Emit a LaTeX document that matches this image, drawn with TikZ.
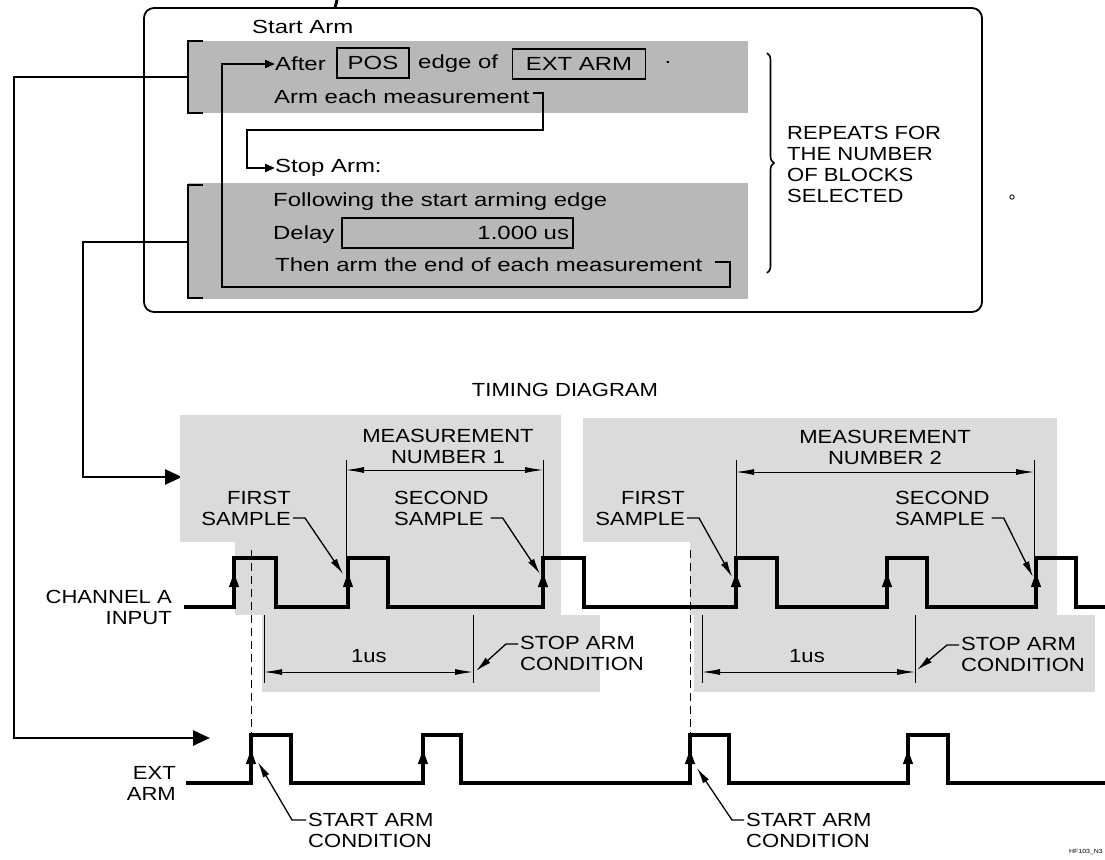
\documentclass[tikz,border=0pt]{standalone}
\usepackage{fontspec}
\setmainfont{Liberation Sans}[FakeStretch=1.16]
\newfontfamily\menufont{Liberation Sans}[FakeStretch=1.26]
\usetikzlibrary{arrows.meta,positioning,decorations.pathreplacing}
\definecolor{panel}{gray}{0.72}
\definecolor{halftone}{gray}{0.86}
\newcommand\diafont{\fontsize{19}{21}\selectfont}

\begin{document}
\begin{tikzpicture}[
        x=1pt, y=-1pt,
        txt/.style={font=\diafont, inner sep=0pt},
        mtxt/.style={font={\menufont\diafont}, inner sep=0pt},
        field/.style={draw, line width=1.3pt, fill=panel, font={\menufont\diafont}, minimum height=30pt, inner sep=0pt},
        wave/.style={line width=3.2pt, line join=miter},
        feed/.style={line width=2.8pt, -{Triangle[length=17pt,width=15pt]}},
        loopline/.style={line width=2.2pt, -{Triangle[length=10pt,width=8pt]}},
        bracket/.style={line width=2.8pt},
        extline/.style={line width=0.9pt},
        dimline/.style={line width=0.9pt, {Latex[length=18pt,width=6pt]}-{Latex[length=18pt,width=6pt]}},
        leader/.style={line width=1.3pt, -{Latex[length=16pt,width=7pt]}},
        edgearrow/.style={line width=1pt, -{Triangle[length=14pt,width=10pt]}}
    ]
    \useasboundingbox (0,0) rectangle (1105,859);

    % Menu
    \node[draw, line width=1.8pt, rounded corners=10pt, minimum width=838pt, minimum height=304pt] (menu) at (563,160) {};
    \coordinate (tick) at (335,8);
    \draw[line width=3pt] (tick) -- (337,0);
    \node[mtxt, anchor=west] (startarm) at (252,27) {Start Arm};
    \fill[panel] (188,41) rectangle (748,113);
    \fill[panel] (188,183) rectangle (748,299);
    \draw[bracket] (203,41) -| (188,113) -- (203,113);
    \draw[bracket] (203,185) -| (188,298) -- (203,298);

    \node[mtxt, anchor=west] (after) at (275,64) {After};
    \node[field, minimum width=72pt] (pos) at (373,63) {POS};
    \node[mtxt, anchor=west] (edgeof) at (418,64) {edge of};
    \node[field, minimum width=133pt] (extarm) at (579,64) {EXT ARM};
    \node[mtxt] (dot) at (668,62) {.};
    \node[mtxt, anchor=west] (armeach) at (274,97) {Arm each measurement};
    \node[mtxt, anchor=west] (stoparm) at (275,168) {Stop Arm:};
    \node[mtxt, anchor=west] (following) at (273,202) {Following the start arming edge};
    \node[mtxt, anchor=west] (delay) at (273,235) {Delay};
    \node[field, minimum width=231pt, text width=223pt, align=right] (delayval) at (457.5,233) {1.000 us};
    \node[mtxt, anchor=west] (thenarm) at (275,265) {Then arm the end of each measurement};

    \coordinate (armhook) at (533,93);
    \coordinate (thenhook) at (715,262);
    \draw[loopline] (armhook) -| (543,130) -| (247,168) -- (stoparm.west);
    \draw[loopline] (thenhook) -| (730,287) -| (222,64) -- (after.west);

    \draw[decorate, decoration={brace, amplitude=7pt}, line width=1.6pt] (767,53) -- (767,273);
    \node[txt, anchor=west, align=left] (repeats) at (787,164) {REPEATS FOR\\THE NUMBER\\OF BLOCKS\\SELECTED};
    \draw[line width=0.8pt] (1012,197) circle (2.2pt);

    % Arming lines
    \coordinate (brA) at (188,77);
    \coordinate (brB) at (188,242);
    \coordinate (armin) at (210,738);
    \coordinate (chin) at (182,477);
    \draw[feed] (brA) -| (14,738) -- (armin);
    \draw[feed] (brB) -| (83,477) -- (chin);

    % Timing diagram
    \node[txt] (timing) at (565,390) {TIMING DIAGRAM};
    \fill[halftone] (180,415) rectangle (561,542);
    \fill[halftone] (235,542) rectangle (561,615);
    \fill[halftone] (262,615) rectangle (600,692);
    \fill[halftone] (583,418) rectangle (1057,542);
    \fill[halftone] (690,542) rectangle (1057,615);
    \fill[halftone] (694,615) rectangle (1095,692);

    \node[txt, anchor=east, align=right] (chA) at (172,607) {CHANNEL A\\INPUT};
    \node[txt, anchor=east, align=right] (extlbl) at (176,783) {EXT\\ARM};

    \draw[wave] (184,607) -- (234,607) -- (234,558) -- (276,558) -- (276,607) -- (348,607) -- (348,558)
        -- (388,558) -- (388,607) -- (543,607) -- (543,558) -- (584,558) -- (584,607) -- (736,607)
        -- (736,558) -- (777,558) -- (777,607) -- (887,607) -- (887,558) -- (927,558) -- (927,607)
        -- (1036,607) -- (1036,558) -- (1076,558) -- (1076,607) -- (1105,607);
    \draw[wave] (186,783) -- (251,783) -- (251,735) -- (291,735) -- (291,783) -- (423,783) -- (423,735)
        -- (461,735) -- (461,783) -- (690,783) -- (690,735) -- (729,735) -- (729,783) -- (908,783)
        -- (908,735) -- (948,735) -- (948,783) -- (1105,783);
    \foreach \xe in {234,348,543,736,887,1036}
        \draw[edgearrow] (\xe,590) -- (\xe,573);
    \foreach \xe in {251,423,690,908}
        \draw[edgearrow] (\xe,767) -- (\xe,750);
    \draw[extline, dash pattern=on 8pt off 5pt] (251,550) -- (251,735);
    \draw[extline, dash pattern=on 8pt off 5pt] (690,550) -- (690,735);

    % Measurements
    \draw[extline] (346,460) -- (346,556) (543,460) -- (543,556);
    \draw[dimline] (346,470) -- (543,470);
    \node[txt, align=center] (meas1) at (448,446) {MEASUREMENT\\NUMBER 1};
    \draw[extline] (736,460) -- (736,556) (1034,460) -- (1034,556);
    \draw[dimline] (736,472) -- (1034,472);
    \node[txt, align=center] (meas2) at (885,447) {MEASUREMENT\\NUMBER 2};

    \draw[extline] (264,615) -- (264,683) (473,615) -- (473,683);
    \draw[dimline] (264,672) -- (473,672);
    \node[txt] (delay1) at (369,656) {1us};
    \draw[extline] (702,615) -- (702,683) (915,615) -- (915,683);
    \draw[dimline] (702,672) -- (915,672);
    \node[txt] (delay2) at (807,656) {1us};

    % Samples
    \node[txt, anchor=east, align=right] (first1) at (291,508) {FIRST\\SAMPLE};
    \node[txt, anchor=west, align=left] (second1) at (394,508) {SECOND\\SAMPLE};
    \node[txt, anchor=east, align=right] (first2) at (685,508) {FIRST\\SAMPLE};
    \node[txt, anchor=west, align=left] (second2) at (895,508) {SECOND\\SAMPLE};
    \coordinate (f1tip) at (343,574);
    \coordinate (s1tip) at (540,574);
    \coordinate (f2tip) at (732,577);
    \coordinate (s2tip) at (1033,577);
    \draw[leader] ([xshift=2pt,yshift=-10pt]first1.east) -- ++(12,0) -- (f1tip);
    \draw[leader] ([xshift=2pt,yshift=-10pt]second1.east) -- ++(12,0) -- (s1tip);
    \draw[leader] ([xshift=2pt,yshift=-10pt]first2.east) -- ++(12,0) -- (f2tip);
    \draw[leader] ([xshift=2pt,yshift=-10pt]second2.east) -- ++(12,0) -- (s2tip);

    % Conditions
    \node[txt, anchor=west, align=left] (stop1) at (520,653) {STOP ARM\\CONDITION};
    \node[txt, anchor=west, align=left] (stop2) at (961,654) {STOP ARM\\CONDITION};
    \node[txt, anchor=west, align=left] (start1) at (308,830) {START ARM\\CONDITION};
    \node[txt, anchor=west, align=left] (start2) at (746,830) {START ARM\\CONDITION};
    \coordinate (p1tip) at (476,671);
    \coordinate (p2tip) at (917,670);
    \coordinate (a1tip) at (258,762);
    \coordinate (a2tip) at (697,768);
    \draw[leader] ([xshift=-2pt,yshift=9pt]stop1.west) -- ++(-12,0) -- (p1tip);
    \draw[leader] ([xshift=-2pt,yshift=9pt]stop2.west) -- ++(-12,0) -- (p2tip);
    \draw[leader] ([xshift=-2pt,yshift=10pt]start1.west) -- ++(-14,0) -- (a1tip);
    \draw[leader] ([xshift=-2pt,yshift=10pt]start2.west) -- ++(-12,0) -- (a2tip);

    \node[txt, font=\fontsize{6}{6}\selectfont, anchor=east] (figid) at (1103,852) {HF103\_N3};
\end{tikzpicture}
\end{document}
